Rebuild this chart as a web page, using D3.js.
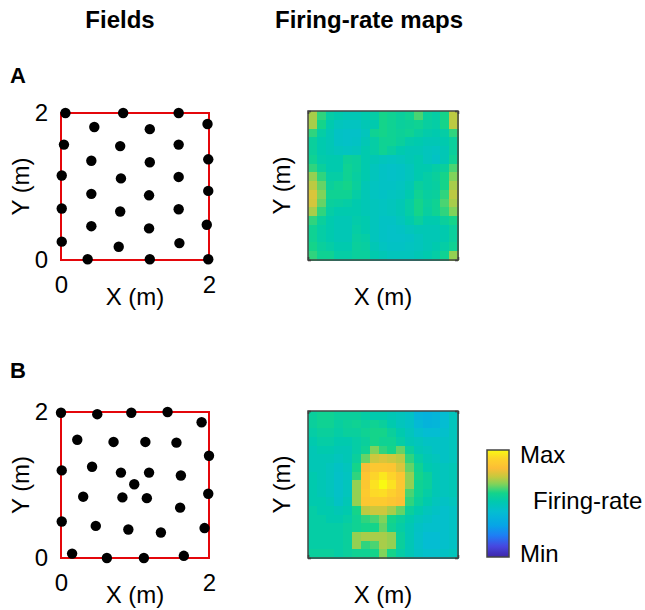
<!DOCTYPE html>
<html>
<head>
<meta charset="utf-8">
<script src="https://cdn.jsdelivr.net/npm/d3@7"></script>
<style>
  body { margin: 0; background: #fff; }
  svg { display: block; }
  text { font-family: "Liberation Sans", Arial, Helvetica, sans-serif; fill: #000; }
</style>
</head>
<body>
<svg id="fig" width="645" height="610"></svg>
<script>
// ---- data -------------------------------------------------------------
const arenaSize = 2;                 // square arena side, metres
const axisTicks = [0, 2];
const columnTitles = ["Fields", "Firing-rate maps"];
const panelLetters = ["A", "B"];
const axisLabelX = "X (m)";
const axisLabelY = "Y (m)";
const colorbarLabels = ["Max", "Firing-rate", "Min"];

// Field centres (m), panel A: regular hexagonal lattice
const fieldsA_x = [0.06, 0.84, 1.59, 1.98, 0.45, 1.20, 0.04, 0.80, 1.59, 1.99, 0.41, 1.20,
                   0.01, 0.81, 1.59, 1.99, 0.41, 1.19, 0.01, 0.80, 1.59, 1.97, 0.41, 1.19,
                   0.01, 0.78, 1.60, 0.36, 1.20, 1.99];
const fieldsA_y = [2.00, 2.00, 2.00, 1.85, 1.81, 1.78, 1.57, 1.55, 1.57, 1.37, 1.35, 1.33,
                   1.15, 1.11, 1.13, 0.94, 0.90, 0.88, 0.70, 0.66, 0.69, 0.48, 0.46, 0.43,
                   0.25, 0.18, 0.23, 0.01, 0.01, 0.01];

// Field centres (m), panel B: distorted lattice
const fieldsB_x = [0.00, 0.49, 0.95, 1.44, 1.90, 0.22, 0.71, 1.14, 1.56, 2.00, 0.01, 0.42,
                   0.81, 1.19, 1.62, 0.99, 0.30, 0.83, 1.16, 1.99, 1.61, 0.01, 0.47, 0.91,
                   1.35, 1.94, 0.15, 0.62, 1.12, 1.66];
const fieldsB_y = [1.99, 1.97, 1.99, 2.00, 1.86, 1.62, 1.59, 1.59, 1.58, 1.40, 1.20, 1.25,
                   1.17, 1.17, 1.13, 1.01, 0.84, 0.83, 0.82, 0.88, 0.69, 0.50, 0.44, 0.39,
                   0.35, 0.41, 0.06, 0.00, 0.00, 0.03];

// Normalised firing rate (0 = min, 1 = max), 17 x 17 bins, first row = top (Y = 2 m)
const rateMapA = [
  [0.72,0.62,0.54,0.52,0.50,0.50,0.52,0.54,0.60,0.58,0.56,0.58,0.64,0.56,0.54,0.60,0.74],
  [0.72,0.60,0.52,0.48,0.47,0.47,0.50,0.52,0.60,0.58,0.56,0.57,0.58,0.55,0.54,0.60,0.74],
  [0.62,0.54,0.50,0.46,0.45,0.45,0.48,0.58,0.60,0.58,0.57,0.58,0.55,0.53,0.52,0.54,0.62],
  [0.56,0.52,0.50,0.46,0.45,0.46,0.50,0.54,0.58,0.58,0.56,0.53,0.52,0.50,0.50,0.52,0.56],
  [0.56,0.52,0.50,0.48,0.47,0.48,0.52,0.54,0.58,0.55,0.52,0.50,0.50,0.48,0.47,0.50,0.56],
  [0.58,0.53,0.52,0.52,0.57,0.56,0.52,0.50,0.48,0.47,0.48,0.50,0.52,0.48,0.46,0.50,0.58],
  [0.62,0.56,0.52,0.52,0.58,0.56,0.52,0.48,0.46,0.45,0.46,0.48,0.52,0.52,0.54,0.56,0.64],
  [0.70,0.62,0.54,0.54,0.58,0.55,0.52,0.48,0.46,0.45,0.46,0.48,0.52,0.54,0.56,0.60,0.68],
  [0.74,0.66,0.56,0.58,0.60,0.56,0.50,0.47,0.46,0.46,0.47,0.50,0.56,0.54,0.55,0.60,0.72],
  [0.78,0.68,0.58,0.58,0.58,0.54,0.50,0.47,0.46,0.47,0.48,0.52,0.58,0.55,0.56,0.62,0.74],
  [0.77,0.66,0.56,0.55,0.54,0.52,0.50,0.48,0.47,0.48,0.50,0.54,0.60,0.56,0.58,0.64,0.72],
  [0.72,0.62,0.54,0.52,0.52,0.52,0.50,0.48,0.47,0.48,0.50,0.54,0.60,0.55,0.58,0.62,0.68],
  [0.62,0.56,0.52,0.50,0.50,0.53,0.52,0.48,0.46,0.46,0.48,0.52,0.56,0.52,0.52,0.56,0.60],
  [0.58,0.54,0.52,0.50,0.50,0.54,0.52,0.48,0.46,0.45,0.46,0.48,0.50,0.50,0.50,0.52,0.56],
  [0.58,0.54,0.52,0.50,0.50,0.55,0.54,0.48,0.46,0.45,0.45,0.46,0.48,0.50,0.50,0.52,0.56],
  [0.60,0.56,0.54,0.52,0.52,0.56,0.55,0.50,0.47,0.46,0.46,0.47,0.48,0.50,0.52,0.54,0.58],
  [0.62,0.58,0.58,0.54,0.54,0.56,0.56,0.52,0.50,0.48,0.48,0.48,0.50,0.52,0.54,0.58,0.70]
];

const rateMapB = [
  [0.56,0.58,0.58,0.56,0.56,0.56,0.54,0.52,0.52,0.50,0.48,0.46,0.38,0.36,0.38,0.42,0.48],
  [0.56,0.58,0.58,0.55,0.57,0.58,0.56,0.58,0.56,0.52,0.48,0.46,0.40,0.37,0.38,0.42,0.48],
  [0.54,0.56,0.56,0.54,0.56,0.56,0.58,0.60,0.60,0.56,0.52,0.48,0.44,0.42,0.42,0.44,0.48],
  [0.52,0.54,0.54,0.52,0.52,0.54,0.56,0.60,0.58,0.58,0.54,0.50,0.48,0.46,0.46,0.46,0.48],
  [0.50,0.52,0.52,0.50,0.50,0.54,0.58,0.68,0.62,0.60,0.66,0.56,0.50,0.48,0.46,0.46,0.48],
  [0.50,0.50,0.50,0.48,0.50,0.56,0.66,0.76,0.78,0.76,0.74,0.62,0.54,0.50,0.48,0.46,0.48],
  [0.50,0.50,0.48,0.46,0.48,0.60,0.82,0.87,0.87,0.86,0.78,0.66,0.58,0.52,0.50,0.48,0.50],
  [0.52,0.50,0.48,0.45,0.47,0.62,0.86,0.92,0.96,0.92,0.86,0.70,0.60,0.56,0.50,0.48,0.50],
  [0.52,0.50,0.48,0.45,0.48,0.70,0.87,0.95,1.00,0.95,0.87,0.70,0.58,0.56,0.50,0.48,0.50],
  [0.52,0.50,0.48,0.45,0.48,0.70,0.88,0.93,0.94,0.90,0.86,0.64,0.58,0.54,0.50,0.48,0.50],
  [0.52,0.52,0.50,0.46,0.50,0.70,0.87,0.88,0.88,0.86,0.84,0.62,0.56,0.52,0.48,0.46,0.48],
  [0.54,0.52,0.52,0.50,0.52,0.60,0.74,0.76,0.76,0.72,0.66,0.56,0.52,0.48,0.46,0.44,0.46],
  [0.54,0.54,0.52,0.52,0.54,0.58,0.62,0.64,0.68,0.60,0.56,0.52,0.48,0.46,0.44,0.44,0.46],
  [0.54,0.54,0.54,0.54,0.56,0.58,0.60,0.60,0.66,0.58,0.54,0.50,0.46,0.44,0.44,0.44,0.46],
  [0.54,0.54,0.54,0.54,0.56,0.70,0.72,0.72,0.72,0.70,0.56,0.50,0.45,0.42,0.42,0.44,0.46],
  [0.54,0.54,0.54,0.54,0.56,0.70,0.62,0.64,0.72,0.70,0.56,0.50,0.45,0.42,0.42,0.44,0.46],
  [0.56,0.56,0.56,0.54,0.56,0.58,0.58,0.60,0.68,0.60,0.54,0.50,0.46,0.44,0.44,0.46,0.48]
];

// Parula-like colour map
const colorStops  = [0, 0.10, 0.20, 0.30, 0.42, 0.52, 0.60, 0.68, 0.75, 0.83, 0.92, 1];
const colorValues = ["#3e26a8", "#4747e0", "#1e7ef5", "#06a6e6", "#04bdd2", "#00caae",
                     "#14d48a", "#80d35a", "#c6c93e", "#fcbd36", "#fdd42a", "#f9fa12"];

// ---- drawing ----------------------------------------------------------
const svg = d3.select("#fig");
const color = d3.scaleLinear().domain(colorStops).range(colorValues).clamp(true);
const FONT = 24;

// column titles
svg.append("text").attr("x", 120).attr("y", 28).attr("text-anchor", "middle")
  .attr("font-size", 24).attr("font-weight", "bold").text(columnTitles[0]);
svg.append("text").attr("x", 369).attr("y", 28).attr("text-anchor", "middle")
  .attr("font-size", 24).attr("font-weight", "bold").text(columnTitles[1]);

const rows = [
  { letter: panelLetters[0], letterY: 83, fx: fieldsA_x, fy: fieldsA_y, map: rateMapA,
    fTop: 113, fBottom: 260, hTop: 111, hBottom: 260 },
  { letter: panelLetters[1], letterY: 378, fx: fieldsB_x, fy: fieldsB_y, map: rateMapB,
    fTop: 412, fBottom: 558, hTop: 411, hBottom: 558 }
];

rows.forEach(r => {
  svg.append("text").attr("x", 10).attr("y", r.letterY)
    .attr("font-size", 22).attr("font-weight", "bold").text(r.letter);

  // ---- fields panel
  const x = d3.scaleLinear().domain([0, arenaSize]).range([61, 209]);
  const y = d3.scaleLinear().domain([0, arenaSize]).range([r.fBottom, r.fTop]);
  const g = svg.append("g");

  const ax = g.append("g").attr("transform", `translate(0,${r.fBottom})`)
    .call(d3.axisBottom(x).tickValues(axisTicks).tickSize(0).tickPadding(16).tickFormat(d3.format("d")));
  const ay = g.append("g").attr("transform", `translate(61,0)`)
    .call(d3.axisLeft(y).tickValues(axisTicks).tickSize(0).tickPadding(13).tickFormat(d3.format("d")));
  [ax, ay].forEach(a => {
    a.select(".domain").remove();
    a.selectAll("text").attr("font-size", FONT).attr("font-family", null).attr("fill", "#000");
  });

  g.append("rect")
    .attr("x", x(0)).attr("y", y(arenaSize))
    .attr("width", x(arenaSize) - x(0)).attr("height", y(0) - y(arenaSize))
    .attr("fill", "none").attr("stroke", "#e4070b").attr("stroke-width", 2);

  g.selectAll("circle.field").data(r.fx.map((v, i) => [v, r.fy[i]])).enter()
    .append("circle").attr("class", "field")
    .attr("cx", d => x(d[0])).attr("cy", d => y(d[1])).attr("r", 5.2)
    .attr("fill", "#000");

  g.append("text").attr("x", (x(0) + x(arenaSize)) / 2).attr("y", r.fBottom + 45)
    .attr("text-anchor", "middle").attr("font-size", FONT).text(axisLabelX);
  g.append("text")
    .attr("transform", `translate(29,${(r.fTop + r.fBottom) / 2}) rotate(-90)`)
    .attr("text-anchor", "middle").attr("font-size", FONT).text(axisLabelY);

  // ---- firing-rate map panel
  const n = r.map.length;
  const bin = arenaSize / n;
  const hx = d3.scaleLinear().domain([0, arenaSize]).range([308, 458]);
  const hy = d3.scaleLinear().domain([0, arenaSize]).range([r.hBottom, r.hTop]);
  const h = svg.append("g");
  const cells = [];
  r.map.forEach((row, ri) => row.forEach((v, ci) => cells.push({ ri, ci, v })));
  h.selectAll("rect.cell").data(cells).enter().append("rect").attr("class", "cell")
    .attr("x", d => hx(d.ci * bin))
    .attr("y", d => hy(arenaSize - d.ri * bin))
    .attr("width", d => hx((d.ci + 1) * bin) - hx(d.ci * bin) + 0.6)
    .attr("height", d => hy(arenaSize - (d.ri + 1) * bin) - hy(arenaSize - d.ri * bin) + 0.6)
    .attr("shape-rendering", "crispEdges")
    .attr("fill", d => color(d.v));

  // inward ticks on all four sides, no labels
  const tickAxes = [
    [d3.axisBottom(hx), `translate(0,${r.hBottom})`],
    [d3.axisTop(hx), `translate(0,${r.hTop})`],
    [d3.axisLeft(hy), `translate(308,0)`],
    [d3.axisRight(hy), `translate(458,0)`]
  ];
  tickAxes.forEach(([axis, t]) => {
    const a = h.append("g").attr("transform", t)
      .call(axis.tickValues(axisTicks).tickSize(-3).tickFormat(""));
    a.select(".domain").remove();
    a.selectAll("line").attr("stroke", "#333").attr("stroke-width", 1.5);
  });
  h.append("rect")
    .attr("x", hx(0)).attr("y", hy(arenaSize))
    .attr("width", hx(arenaSize) - hx(0)).attr("height", hy(0) - hy(arenaSize))
    .attr("fill", "none").attr("stroke", "#444").attr("stroke-width", 1.5);

  h.append("text").attr("x", (hx(0) + hx(arenaSize)) / 2).attr("y", r.hBottom + 45)
    .attr("text-anchor", "middle").attr("font-size", FONT).text(axisLabelX);
  h.append("text")
    .attr("transform", `translate(290,${(r.hTop + r.hBottom) / 2}) rotate(-90)`)
    .attr("text-anchor", "middle").attr("font-size", FONT).text(axisLabelY);
});

// ---- colour bar
const cb = { x: 487, y: 450, w: 22, h: 107 };
const cbScale = d3.scaleLinear().domain([0, 1]).range([cb.y + cb.h, cb.y]);
const grad = svg.append("defs").append("linearGradient").attr("id", "cbgrad")
  .attr("x1", 0).attr("y1", 1).attr("x2", 0).attr("y2", 0);
d3.range(0, 1.0001, 1 / 64).forEach(t => {
  grad.append("stop").attr("offset", t).attr("stop-color", color(t));
});
svg.append("rect").attr("x", cb.x).attr("y", cbScale(1))
  .attr("width", cb.w).attr("height", cbScale(0) - cbScale(1))
  .attr("fill", "url(#cbgrad)").attr("stroke", "#444").attr("stroke-width", 1.5);
svg.append("text").attr("x", 520).attr("y", cbScale(1) + 13).attr("font-size", FONT).text(colorbarLabels[0]);
svg.append("text").attr("x", 533).attr("y", 509).attr("font-size", FONT).text(colorbarLabels[1]);
svg.append("text").attr("x", 520).attr("y", cbScale(0) + 5).attr("font-size", FONT).text(colorbarLabels[2]);
</script>
</body>
</html>
